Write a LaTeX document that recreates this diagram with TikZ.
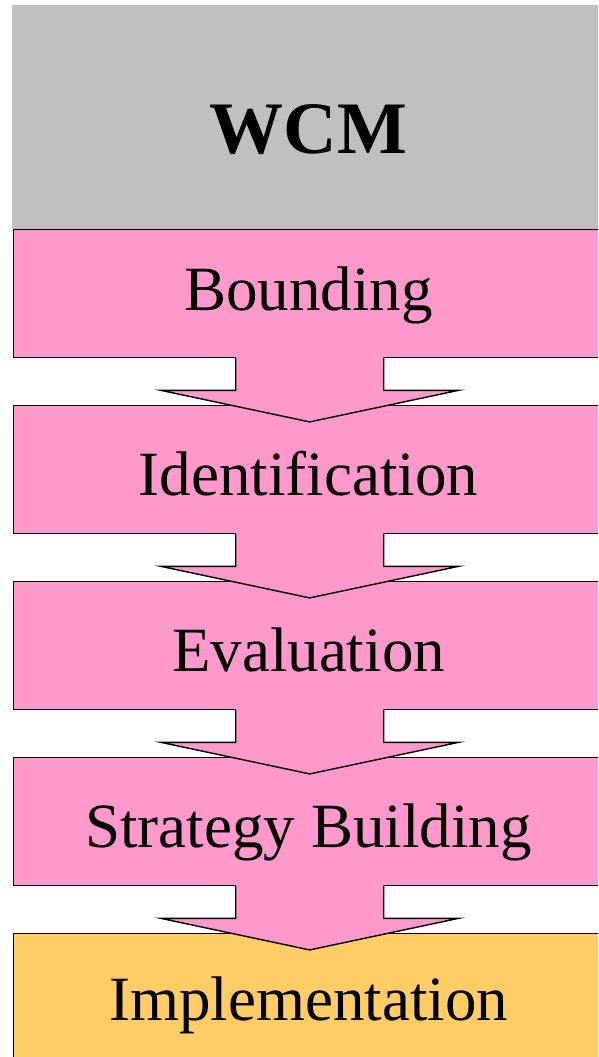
\documentclass[tikz,border=0pt]{standalone}
\usepackage{fontspec}
\setmainfont{Liberation Serif}
\definecolor{boxpink}{RGB}{255,153,204}
\definecolor{boxgold}{RGB}{255,204,102}
\definecolor{headgray}{RGB}{192,192,192}

\begin{document}
\begin{tikzpicture}[x=1pt,y=-1pt,
  stagebox/.style={draw=black, line width=1.4pt, fill=boxpink,
    minimum width=593pt, minimum height=128pt, inner sep=0pt,
    anchor=north west},
  stagetext/.style={anchor=base, inner sep=0pt,
    font=\fontsize{63}{70}\selectfont},
  flowfill/.style={fill=boxpink},
  flowline/.style={draw=black, line width=1.4pt, line join=miter}
]
\useasboundingbox (0,0) rectangle (598,1057);
\clip (0,0) rectangle (598,1057);

% header
\node[fill=headgray, minimum width=594pt, minimum height=224pt,
      inner sep=0pt, anchor=north west] (head) at (12,5) {};
\node[anchor=base, inner sep=0pt, font=\fontsize{74}{80}\selectfont\bfseries]
  (headtext) at (308.5,153) {WCM};

% stages
\node[stagebox] (s1) at (12.5,228.5) {};
\node[stagebox] (s2) at (12.5,404.5) {};
\node[stagebox] (s3) at (12.5,580.5) {};
\node[stagebox] (s4) at (12.5,756.5) {};
\node[stagebox, fill=boxgold] (s5) at (12.5,932.5) {};

\node[stagetext] (t1) at (308.5,310) {Bounding};
\node[stagetext] (t2) at (308.5,495) {Identification};
\node[stagetext] (t3) at (308.5,671) {Evaluation};
\node[stagetext] (t4) at (308.5,847) {Strategy Building};
\node[stagetext] (t5) at (308.5,1020) {Implementation};

% block arrows between consecutive stages
\foreach \a/\b in {s1/s2, s2/s3, s3/s4, s4/s5}{
  \begin{scope}[shift={(\a.south)}]
    \path[flowfill] (-74,-1.2) -- (-74,32.5) -- (-148.5,32.5) -- (0,64)
      -- (148.5,32.5) -- (74,32.5) -- (74,-1.2) -- cycle;
    \path[flowline] (-74,0) -- (-74,32.5) -- (-148.5,32.5) -- (0,64)
      -- (148.5,32.5) -- (74,32.5) -- (74,0);
  \end{scope}
}
\end{tikzpicture}
\end{document}
